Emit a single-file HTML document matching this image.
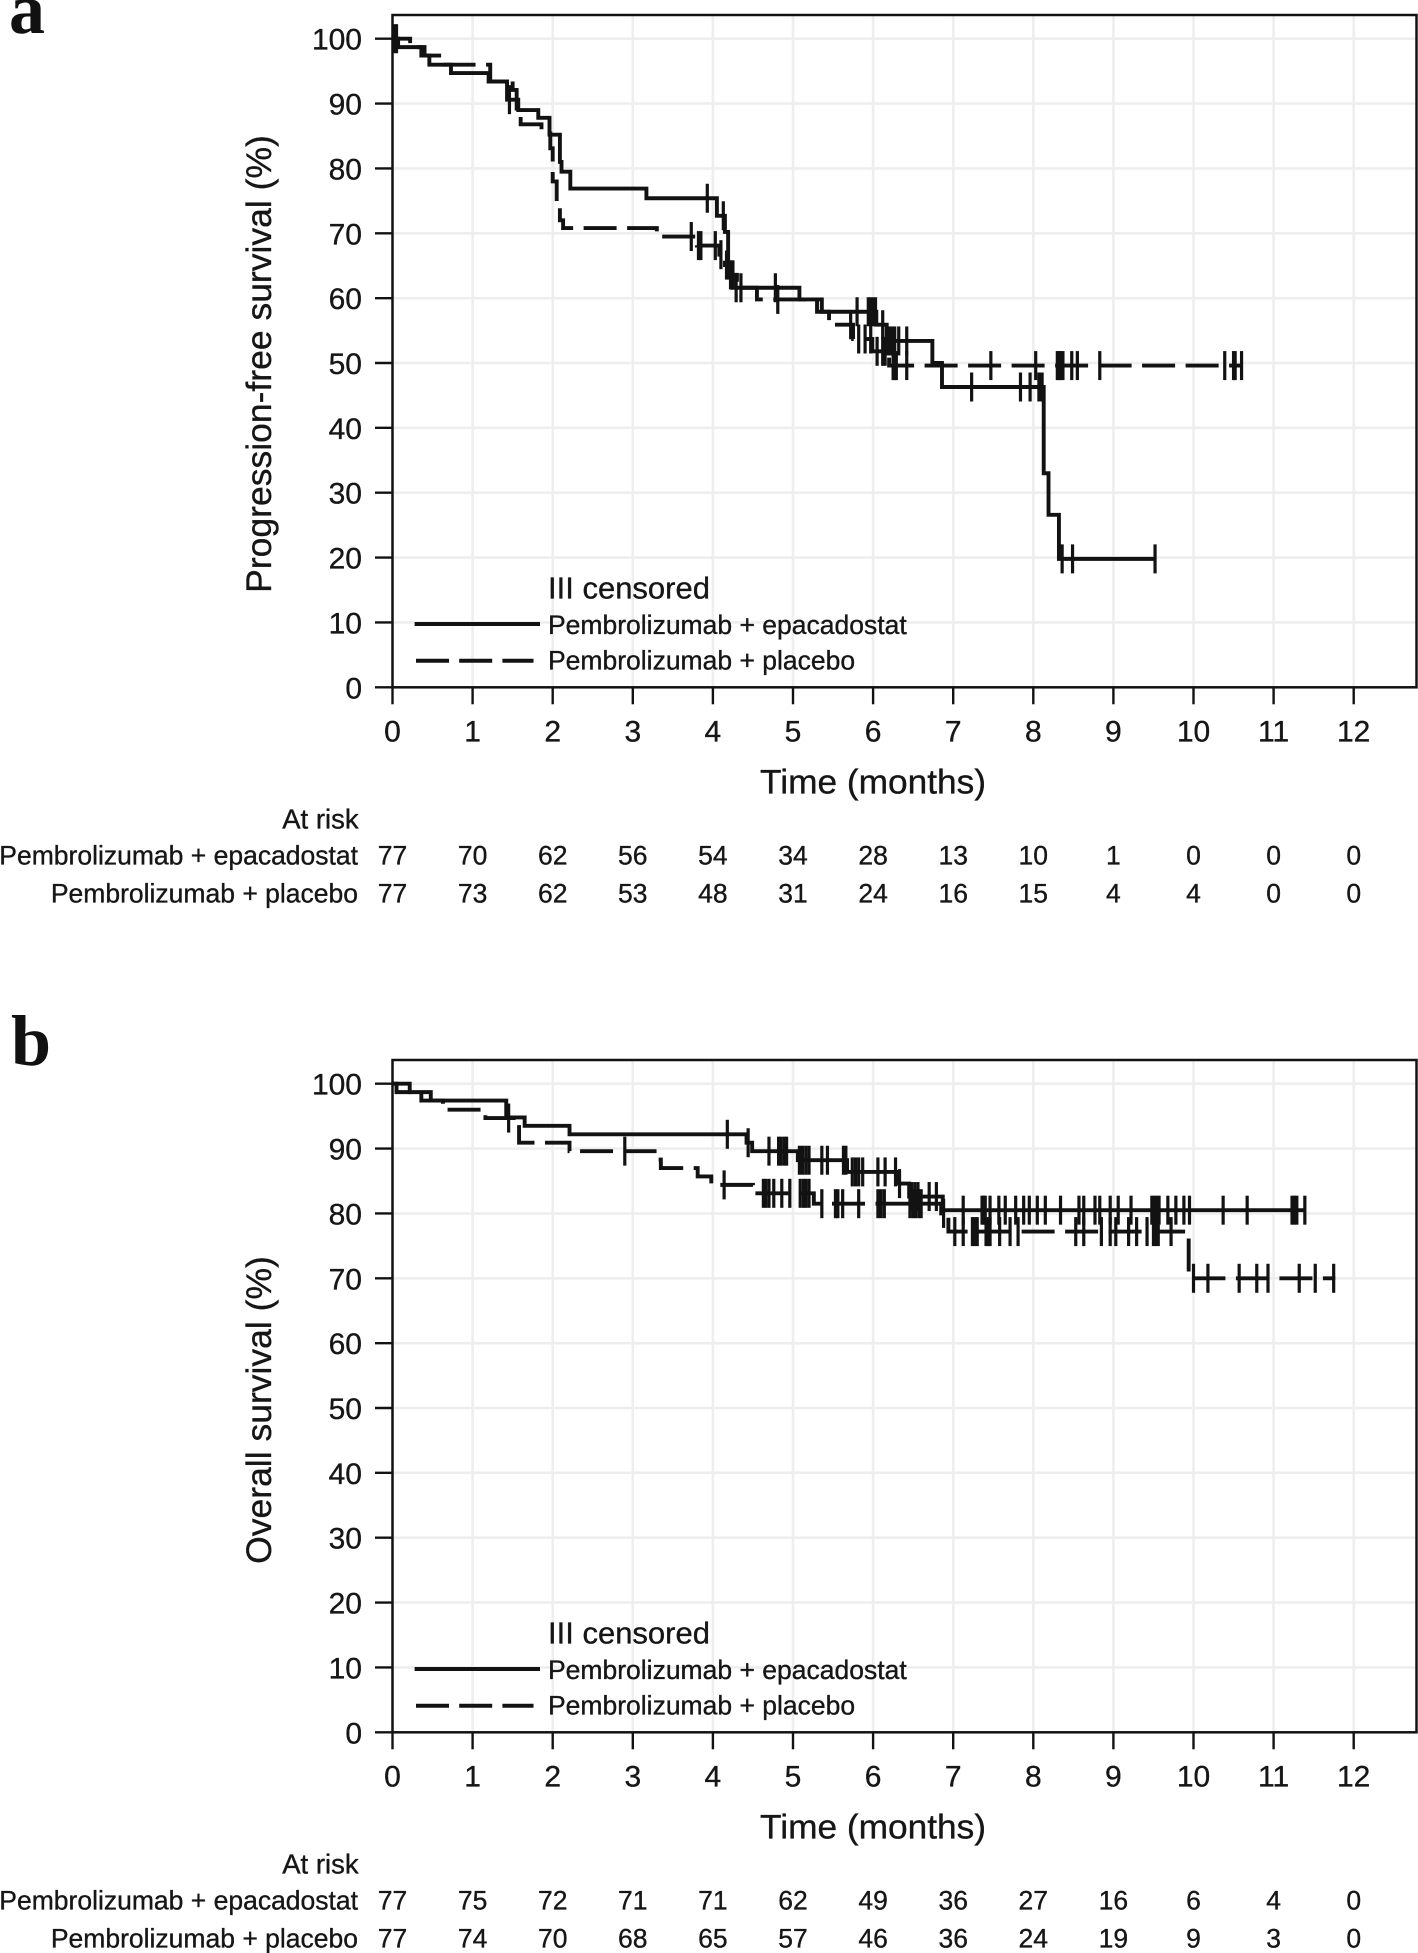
<!DOCTYPE html>
<html lang="en">
<head>
<meta charset="utf-8">
<title>Kaplan-Meier survival curves</title>
<style>
html,body{margin:0;padding:0;background:#fff;}
body{width:1418px;height:1953px;overflow:hidden;}
svg{display:block;}
text{font-family:"Liberation Sans",Arial,sans-serif;fill:#161616;stroke:#161616;stroke-width:.35px;}
.panel-letter{font-family:"Liberation Serif",serif;font-weight:bold;fill:#111;stroke:none;}
</style>
</head>
<body>
<svg id="chart" xmlns="http://www.w3.org/2000/svg" width="1418" height="1953" viewBox="0 0 1418 1953"></svg>
<script>
// ---- shared axis values ----
const monthTicks = [0,1,2,3,4,5,6,7,8,9,10,11,12];
const percentTicks = [0,10,20,30,40,50,60,70,80,90,100];
const epaName = "Pembrolizumab + epacadostat";
const pboName = "Pembrolizumab + placebo";

// ---- panel a: progression-free survival ----
const pfsEpaTimes = [0,.07,.36,.46,.73,1.2,1.43,1.57,1.82,1.96,2.09,2.11,2.22,3.17,4.05,4.15,4.19,4.24,5.08,5.30,6.04,6.17,6.74,6.86,8.13,8.19,8.32,9.52];
const pfsEpaSurvival = [100,98.7,97.4,96,94.7,93.4,90.6,89,87.8,85.2,81,79.5,76.9,75.4,72.7,70.2,65,61.6,59.8,57.9,55.9,53.4,50,46.3,33,26.6,19.8,19.8];
const pfsEpaCensored = [.03,1.46,3.93,4.13,4.29,4.35,4.78,5.8,5.94,5.97,6.0,6.03,6.12,6.18,6.21,6.24,6.27,6.32,6.42,7.23,7.84,7.96,8.07,8.11,8.36,8.49,9.52];
const pfsPboTimes = [0,.22,.40,.64,1.22,1.5,1.55,1.6,1.86,1.97,2.0,2.05,2.09,2.13,3.30,3.8,4.08,4.15,4.2,4.3,4.55,5.36,5.45,5.75,5.99,6.2,10.6];
const pfsPboSurvival = [100,98.7,97.4,96,93.4,92.1,88,86.8,85.4,83.1,78,74.7,72,70.8,69.5,68.1,66.7,65.1,63.6,61.6,59.8,57.9,55.9,53.7,51.8,49.6,49.6];
const pfsPboCensored = [.05,3.73,3.82,3.85,4.03,4.1,4.17,4.19,4.22,4.25,4.81,5.72,5.82,5.9,5.97,6.05,6.12,6.15,6.25,6.27,6.29,6.42,7.47,8.03,8.3,8.32,8.34,8.37,8.48,8.55,8.83,10.39,10.5,10.52,10.6];
const pfsEpaAtRisk = [77,70,62,56,54,34,28,13,10,1,0,0,0];
const pfsPboAtRisk = [77,73,62,53,48,31,24,16,15,4,4,0,0];

// ---- panel b: overall survival ----
const osEpaTimes = [0,.215,.478,1.42,1.65,2.21,4.42,4.49,5.06,5.675,6.3,6.45,6.87,11.4];
const osEpaSurvival = [100,98.7,97.4,94.8,93.5,92.2,90.9,89.6,88.2,86.4,84.6,82.6,80.5,80.5];
const osEpaCensored = [4.18,4.44,4.70,4.82,4.85,4.89,4.92,5.08,5.12,5.16,5.2,5.36,5.43,5.63,5.66,5.74,5.78,5.82,5.87,6.06,6.15,6.28,6.33,6.48,6.52,6.56,6.7,6.79,7.125,7.36,7.38,7.4,7.46,7.57,7.65,7.78,7.88,7.95,8.05,8.15,8.34,8.57,8.63,8.77,8.83,8.96,9.06,9.22,9.48,9.51,9.54,9.57,9.68,9.78,9.88,9.95,10.37,10.67,11.23,11.26,11.29,11.39];
const osPboTimes = [0,.05,.36,.63,1.16,1.58,2.21,3.31,3.35,3.81,3.98,4.5,5.26,6.85,6.94,9.94,11.77];
const osPboSurvival = [100,98.7,97.4,96,94.7,90.9,89.6,88.3,87,85.7,84.4,83.1,81.5,80,77.2,70,70];
const osPboCensored = [1.45,2.9,4.14,4.63,4.66,4.7,4.76,4.86,4.96,5.09,5.13,5.16,5.2,5.36,5.53,5.56,5.62,5.82,6.06,6.1,6.14,6.46,6.5,6.53,6.57,6.6,6.88,7.02,7.125,7.24,7.27,7.3,7.41,7.44,7.46,7.58,7.71,7.81,8.53,8.63,8.85,8.96,9.03,9.19,9.29,9.42,9.5,9.53,9.56,9.72,10.0,10.18,10.57,10.79,10.93,11.32,11.52,11.75];
const osEpaAtRisk = [77,75,72,71,71,62,49,36,27,16,6,4,0];
const osPboAtRisk = [77,74,70,68,65,57,46,36,24,19,9,3,0];

const NS = "http://www.w3.org/2000/svg";
const svg = document.getElementById("chart");
const INK = "#121212";
const GRID = "#eeeeee";

function make(tag, attrs, parent, txt) {
  const e = document.createElementNS(NS, tag);
  for (const k in attrs) e.setAttribute(k, attrs[k]);
  if (txt !== undefined) e.textContent = txt;
  parent.appendChild(e);
  return e;
}
function stepAt(times, surv, t) {
  let v = surv[0];
  for (let i = 0; i < times.length; i++) { if (times[i] <= t) v = surv[i]; }
  return v;
}

function drawPanel(p) {
  const dy = p.dy;
  const xOf = t => 392.5 + t * 80.1;
  const yOf = v => 687.3 + dy - v * 6.486;
  const top = 15 + dy, bottom = 687.3 + dy, right = 1416.5;

  const g = make("g", {}, svg);
  
  

  const letter = make("text", {x: p.letterX, y: p.letterY, "font-size": 72, "class": "panel-letter"}, g, p.letter);
  
  

  // gridlines
  percentTicks.forEach(v => {
    const l = make("line", {x1: xOf(0), x2: right, y1: yOf(v), y2: yOf(v), stroke: GRID, "stroke-width": 2.6}, g);
    
    
  });
  monthTicks.forEach(t => {
    const l = make("line", {x1: xOf(t), x2: xOf(t), y1: top, y2: bottom, stroke: GRID, "stroke-width": 2.6}, g);
    
    
  });

  // y ticks and labels
  percentTicks.forEach(v => {
    const l = make("line", {x1: 375, x2: xOf(0), y1: yOf(v), y2: yOf(v), stroke: INK, "stroke-width": 2.4}, g);
    
    
    const s = make("text", {x: 362, y: yOf(v) + 11, "font-size": 30, "text-anchor": "end"}, g, String(v));
    
    
  });
  // x ticks and labels
  monthTicks.forEach(t => {
    const l = make("line", {x1: xOf(t), x2: xOf(t), y1: bottom, y2: bottom + 17, stroke: INK, "stroke-width": 2.4}, g);
    
    
    const s = make("text", {x: xOf(t), y: bottom + 54.4, "font-size": 30, "text-anchor": "middle"}, g, String(t));
    
    
  });

  // plot frame
  const frame = make("rect", {x: xOf(0), y: top, width: right - xOf(0), height: bottom - top, fill: "none", stroke: INK, "stroke-width": 2.5}, g);
  
  

  // axis titles
  const yt = make("text", {transform: "translate(271," + (p.yTitleY) + ") rotate(-90)", "font-size": 35.5, "text-anchor": "middle"}, g, p.yTitle);
  
  
  const xt = make("text", {x: 873, y: 793.3 + dy, "font-size": 34, "text-anchor": "middle", textLength: 226, lengthAdjust: "spacingAndGlyphs"}, g, "Time (months)");
  
  

  // series
  function series(name, times, surv, censored, dashed) {
    let d = "M" + xOf(times[0]).toFixed(2) + " " + yOf(surv[0]).toFixed(2);
    for (let i = 1; i < times.length; i++) {
      d += "H" + xOf(times[i]).toFixed(2) + "V" + yOf(surv[i]).toFixed(2);
    }
    const attrs = {d: d, fill: "none", stroke: INK, "stroke-width": 3.9, "stroke-linejoin": "miter"};
    if (dashed) { attrs["stroke-dasharray"] = "33 10.5"; attrs["stroke-dashoffset"] = p.dashOffset; }
    const path = make("path", attrs, g);
    
    
    censored.forEach(t => {
      const v = stepAt(times, surv, t);
      const c = make("line", {x1: xOf(t), x2: xOf(t), y1: yOf(v) - 14.5, y2: yOf(v) + 14.5, stroke: INK, "stroke-width": 3.2}, g);
      
      
    });
  }
  series("epacadostat", p.epaT, p.epaS, p.epaC, false);
  series("placebo", p.pboT, p.pboS, p.pboC, true);

  // legend
  const lg = make("g", {}, g);
  
  
  const lt = make("text", {x: 548, y: 598.5 + dy, "font-size": 31}, lg, "III censored");
  
  
  const l1 = make("line", {x1: 414.6, x2: 540, y1: 624 + dy, y2: 624 + dy, stroke: INK, "stroke-width": 4}, lg);
  
  
  const t1 = make("text", {x: 548, y: 634 + dy, "font-size": 26.5}, lg, epaName);
  
  
  const l2 = make("line", {x1: 416, x2: 533.5, y1: 660.7 + dy, y2: 660.7 + dy, stroke: INK, "stroke-width": 4, "stroke-dasharray": "33 10.2"}, lg);
  
  
  const t2 = make("text", {x: 548, y: 669.3 + dy, "font-size": 26.5}, lg, pboName);
  
  

  // at-risk table
  const ar = make("text", {x: 358.6, y: 828.3 + dy, "font-size": 27.5, "text-anchor": "end"}, g, "At risk");
  
  
  const r1 = make("text", {x: 358, y: 864.5 + dy, "font-size": 26.5, "text-anchor": "end"}, g, epaName);
  
  
  const r2 = make("text", {x: 358, y: 902.5 + dy, "font-size": 26.5, "text-anchor": "end"}, g, pboName);
  
  
  monthTicks.forEach((t, i) => {
    const a = make("text", {x: xOf(t), y: 864.5 + dy, "font-size": 26.5, "text-anchor": "middle"}, g, String(p.epaRisk[i]));
    
    
    const b = make("text", {x: xOf(t), y: 902.5 + dy, "font-size": 26.5, "text-anchor": "middle"}, g, String(p.pboRisk[i]));
    
    
  });
}

drawPanel({id: "pfs", letter: "a", letterX: 9, letterY: 33, dy: 0, yTitle: "Progression-free survival (%)", yTitleY: 364, dashOffset: 11,
  epaT: pfsEpaTimes, epaS: pfsEpaSurvival, epaC: pfsEpaCensored, pboT: pfsPboTimes, pboS: pfsPboSurvival, pboC: pfsPboCensored,
  epaRisk: pfsEpaAtRisk, pboRisk: pfsPboAtRisk});
drawPanel({id: "os", letter: "b", letterX: 11, letterY: 1065, dy: 1045, yTitle: "Overall survival (%)", yTitleY: 1410, dashOffset: 6,
  epaT: osEpaTimes, epaS: osEpaSurvival, epaC: osEpaCensored, pboT: osPboTimes, pboS: osPboSurvival, pboC: osPboCensored,
  epaRisk: osEpaAtRisk, pboRisk: osPboAtRisk});
</script>
</body>
</html>
